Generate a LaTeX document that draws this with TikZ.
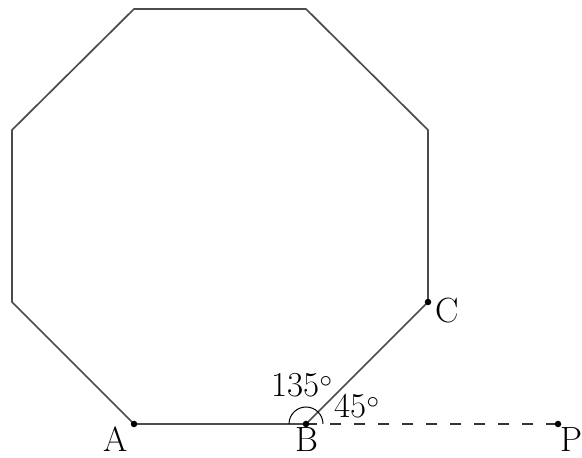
\documentclass[tikz,border=0pt]{standalone}
\begin{document}
\begin{tikzpicture}[x=1pt,y=1pt,
  edge/.style={draw=black!70,line width=1.7pt,line join=miter},
  dotpt/.style={circle,fill=black,inner sep=0pt,minimum size=6.5pt},
  lbl/.style={anchor=base,inner sep=0pt,font=\fontsize{35}{37}\selectfont},
  dashline/.style={draw=black!80,line width=1.2pt,dash pattern=on 11pt off 13pt},
  anglearc/.style={draw=black,line width=1pt}]
\useasboundingbox (0,0) rectangle (582,458);
\coordinate (A) at (134,34);
\coordinate (B) at (306,34);
\coordinate (C) at (428,156);
\coordinate (D) at (428,328);
\coordinate (E) at (306,449);
\coordinate (F) at (134,449);
\coordinate (G) at (12,328);
\coordinate (H) at (12,156);
\coordinate (P) at (558,34);
\draw[edge] (A) -- (B) -- (C) -- (D) -- (E) -- (F) -- (G) -- (H) -- cycle;
\draw[dashline] (B) -- (P);
\draw[anglearc] ([xshift=17pt]B) arc[start angle=0,end angle=180,radius=17pt];
\node[dotpt] (dA) at (A) {};
\node[dotpt] (dB) at (B) {};
\node[dotpt] (dC) at (C) {};
\node[dotpt] (dP) at (P) {};
\node[lbl] (lA) at (116,6) {A};
\node[lbl] (lB) at (307,6) {B};
\node[lbl] (lC) at (447,135) {C};
\node[lbl] (lP) at (571,6) {P};
\node[lbl] (l135) at (302,61) {135$^\circ$};
\node[lbl] (l45) at (357,40) {45$^\circ$};
\end{tikzpicture}
\end{document}
